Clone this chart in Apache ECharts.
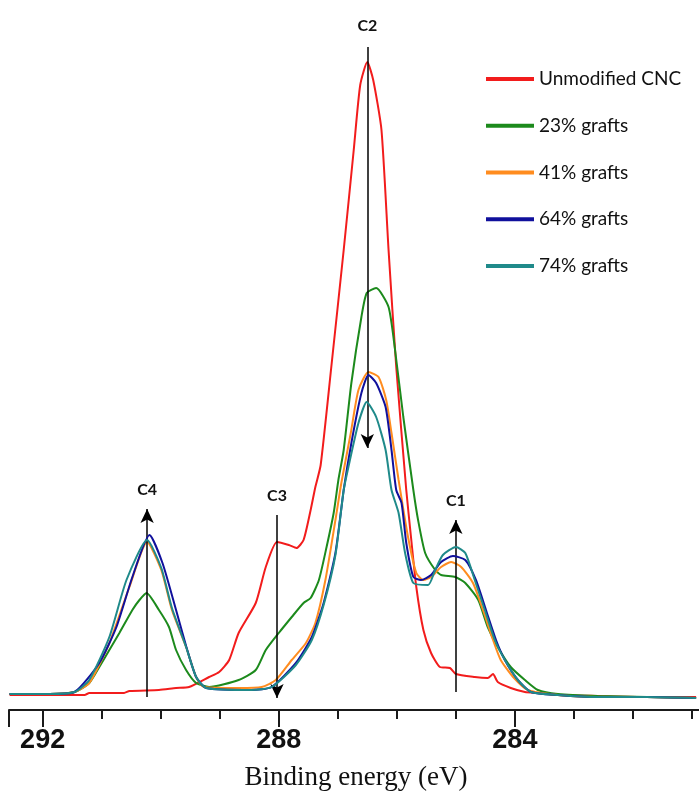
<!DOCTYPE html>
<html>
<head>
<meta charset="utf-8">
<script src="https://cdn.jsdelivr.net/npm/echarts@6/dist/echarts.min.js"></script>
<style>
html,body{margin:0;padding:0;background:#fff;overflow:hidden;width:699px;height:796px;}
#main{width:754px;height:796px;}
</style>
</head>
<body>
<div id="main"></div>
<script>
// Binding energy (eV), intensity (a.u.)
const unmodifiedCNC = [[292.56,15],[291.88,15],[291.29,15],[291.21,17],[290.62,17],[290.53,19],[290.03,20],[289.74,22],[289.52,23],[289.18,33],[289.01,38],[288.84,50],[288.68,77],[288.39,107],[288.22,143],[288.03,168],[287.83,165],[287.70,162],[287.58,170],[287.46,200],[287.38,223],[287.29,245],[287.11,343],[286.90,460],[286.73,560],[286.62,625],[286.50,648],[286.40,630],[286.26,580],[286.14,460],[286.01,343],[285.84,220],[285.76,173],[285.67,123],[285.55,80],[285.42,57],[285.27,43],[285.10,42],[285.00,36],[284.68,33],[284.46,32],[284.37,36],[284.29,28],[284.07,22],[283.83,18],[283.61,17],[283.27,15],[282.60,14],[281.76,13],[280.93,13]];
const grafts23 = [[292.56,16],[291.88,16],[291.46,18],[291.21,27],[291.04,43],[290.87,60],[290.70,77],[290.48,100],[290.36,110],[290.24,117],[290.03,100],[289.86,83],[289.74,60],[289.57,40],[289.40,27],[289.18,23],[288.68,30],[288.39,40],[288.22,60],[288.00,77],[287.78,93],[287.58,107],[287.46,112],[287.32,130],[287.19,163],[287.07,197],[286.99,230],[286.90,260],[286.77,327],[286.60,393],[286.51,417],[286.35,422],[286.14,403],[286.03,360],[285.89,293],[285.72,220],[285.64,190],[285.52,157],[285.35,140],[285.25,135],[285.01,133],[284.84,127],[284.62,110],[284.46,83],[284.29,63],[284.07,43],[283.83,30],[283.61,20],[283.27,16],[282.60,14],[281.76,13],[280.93,12]];
const grafts41 = [[292.56,16],[291.88,16],[291.46,18],[291.21,27],[290.87,67],[290.53,123],[290.23,168],[289.99,140],[289.81,100],[289.57,63],[289.40,33],[289.27,23],[288.68,22],[288.29,23],[288.05,30],[287.78,50],[287.54,67],[287.38,87],[287.21,130],[287.04,190],[286.94,227],[286.78,277],[286.65,320],[286.48,338],[286.31,333],[286.18,310],[286.09,277],[285.97,230],[285.81,173],[285.67,137],[285.55,130],[285.42,133],[285.25,143],[285.08,148],[284.91,143],[284.71,127],[284.54,100],[284.37,70],[284.24,50],[284.03,33],[283.78,20],[283.27,15],[282.60,13],[281.76,13],[280.93,12]];
const grafts64 = [[292.56,16],[291.88,16],[291.46,18],[291.04,47],[290.75,83],[290.48,133],[290.19,175],[289.97,147],[289.74,100],[289.55,60],[289.40,33],[289.23,22],[288.46,20],[288.12,23],[287.71,47],[287.44,73],[287.24,107],[287.04,157],[286.90,220],[286.77,267],[286.60,317],[286.48,335],[286.35,327],[286.19,303],[286.09,260],[286.01,220],[285.92,207],[285.84,167],[285.72,133],[285.59,130],[285.42,135],[285.25,148],[285.05,154],[284.84,150],[284.66,130],[284.49,100],[284.32,70],[284.17,50],[283.95,30],[283.73,18],[283.27,15],[282.60,13],[281.76,13],[280.93,12]];
const grafts74 = [[292.56,16],[291.88,16],[291.46,18],[291.21,30],[290.87,73],[290.58,130],[290.23,170],[289.99,142],[289.81,102],[289.57,63],[289.40,33],[289.23,22],[288.46,20],[288.12,23],[287.71,45],[287.44,70],[287.24,105],[287.04,155],[286.90,220],[286.82,243],[286.65,287],[286.51,308],[286.35,293],[286.19,260],[286.09,220],[285.97,197],[285.86,157],[285.72,127],[285.47,125],[285.35,140],[285.22,155],[285.00,163],[284.84,157],[284.68,130],[284.51,100],[284.34,70],[284.17,50],[283.95,30],[283.73,18],[283.27,15],[282.60,13],[281.76,13],[280.93,12]];
const seriesNames = ['Unmodified CNC','23% grafts','41% grafts','64% grafts','74% grafts'];
const tickLabels = [292, 288, 284];
// peak markers: [label, energy, from intensity, to intensity]
const peakArrows = [['C2',286.50,663,262],['C4',290.23,13,201],['C3',288.03,195,12],['C1',285.00,18,190]];

const colors = ['#f21c1c','#1c8a1c','#ff8c1f','#10109c','#1f8a8a'];
const dataSets = [unmodifiedCNC, grafts23, grafts41, grafts64, grafts74];

const chart = echarts.init(document.getElementById('main'), null, {renderer:'canvas'});

const markData = peakArrows.map(function(a){
  const down = a[2] > a[3];
  return [
    {coord:[a[1], a[2]], label:{show:true, formatter:a[0], position: down ? 'start' : 'end',
      distance: a[0] === 'C2' ? 13 : 11,
      color:'#111', fontWeight:'bold', fontSize:16, fontFamily:'Lato, "Open Sans", sans-serif'}},
    {coord:[a[1], a[3]]}
  ];
});

const series = dataSets.map(function(d, i){
  return {
    name: seriesNames[i], type:'line', data:d, showSymbol:false, symbol:'none',
    smooth:0.2, xAxisIndex:0, yAxisIndex:0,
    lineStyle:{color:colors[i], width:2}, itemStyle:{color:colors[i]},
    z: 2 + i
  };
});
series.push({
  type:'line', data:[], xAxisIndex:0, yAxisIndex:0, silent:true, z:10,
  markLine:{silent:true, symbol:['none','arrow'], symbolSize:[10,14], animation:false,
    lineStyle:{color:'#000', width:1.5, type:'solid'}, data:markData}
});

const option = {
  animation:false,
  backgroundColor:'#ffffff',
  grid:{left:9, right:0, top:10, bottom:86, containLabel:false},
  xAxis:[{
    type:'value', inverse:true, min:280, max:292.57, interval:1,
    axisLine:{show:true, lineStyle:{color:'#1a1a1a', width:2}},
    axisTick:{show:true, length:9, lineStyle:{color:'#1a1a1a', width:2}},
    axisLabel:{show:true, margin:17, color:'#111', fontWeight:'bold', fontSize:27,
      fontFamily:'"Liberation Sans Narrow", "Arial Narrow", sans-serif',
      formatter:function(v){ return tickLabels.indexOf(Math.round(v)) >= 0 && Math.abs(v-Math.round(v))<1e-6 ? String(Math.round(v)) : ''; }},
    splitLine:{show:false}
  },{
    type:'value', inverse:true, min:280, max:292.57, interval:4, position:'bottom',
    axisLine:{show:false},
    axisTick:{show:true, length:17, lineStyle:{color:'#1a1a1a', width:2}},
    axisLabel:{show:false}, splitLine:{show:false}
  }],
  yAxis:{type:'value', min:0, max:700, show:false, splitLine:{show:false}},
  legend:{
    orient:'vertical', left:486, top:69, padding:0, itemGap:26.75,
    itemWidth:48, itemHeight:4, icon:'rect',
    data:seriesNames,
    textStyle:{fontSize:19, lineHeight:20, color:'#111', fontFamily:'Lato, "Open Sans", sans-serif'}
  },
  graphic:[{type:'text', x:356, y:778, silent:true,
    style:{text:'Binding energy (eV)', textAlign:'center', textVerticalAlign:'middle',
      font:'27px "Liberation Serif", "Times New Roman", serif', fill:'#111'}}],
  series: series
};
chart.setOption(option);
</script>
</body>
</html>
